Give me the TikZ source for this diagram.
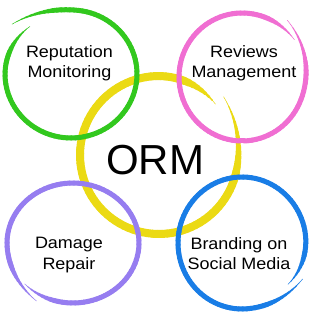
\documentclass[tikz,border=0pt]{standalone}
\usepackage{fontspec}
\setmainfont{Liberation Sans}
\definecolor{cgreen}{RGB}{50,200,30}
\definecolor{cpink}{RGB}{240,110,210}
\definecolor{cyellow}{RGB}{235,218,20}
\definecolor{cpurple}{RGB}{150,125,240}
\definecolor{cblue}{RGB}{25,125,230}
% #1 colour, #2 cx, #3 cy, #4 rx, #5 ry, #6 start angle, #7 sweep, #8 width, #9 radius offset expr in \myT
\newcommand\brushcirc[9]{%
 \foreach \i in {0,...,99}{%
   \pgfmathsetmacro\myT{\i/100}%
   \pgfmathsetmacro\ea{#9}%
   \pgfmathsetmacro\aa{#6+(#7)*\myT}%
   \pgfmathsetmacro\xa{#2+(#4+\ea)*cos(\aa)}%
   \pgfmathsetmacro\ya{#3+(#5+\ea)*sin(\aa)}%
   \pgfmathsetmacro\myT{(\i+1)/100}%
   \pgfmathsetmacro\eb{#9}%
   \pgfmathsetmacro\ab{#6+(#7)*\myT}%
   \pgfmathsetmacro\xb{#2+(#4+\eb)*cos(\ab)}%
   \pgfmathsetmacro\yb{#3+(#5+\eb)*sin(\ab)}%
   \pgfmathsetmacro\myT{(\i+0.5)/100}%
   \pgfmathsetmacro\ww{max(0.5,#8*min(1,min(\myT/\tapS,(1-\myT)/\tapE)))}%
   \draw[#1,line width=\ww pt,line cap=round] (\xa,\ya) -- (\xb,\yb);
 }}
\tikzset{
  lbl/.style={font=\fontsize{16.5}{20.5}\selectfont, align=center, xscale=1.09, transform shape, inner sep=0pt},
  big/.style={font=\fontsize{42}{46}\selectfont, inner sep=0pt}
}
\begin{document}
\begin{tikzpicture}[x=1pt,y=1pt]
\useasboundingbox (0,0) rectangle (318,320);
\fill[white] (0,0) rectangle (318,320);
% yellow centre circle
\def\tapS{0.16}\def\tapE{0.08}
\brushcirc{cyellow}{159}{165}{79}{79}{42}{-360}{8}{8*max(0,1-\myT/0.15)^2-3*max(0,(\myT-0.85)/0.15)^2}
% green
\def\tapS{0.1}\def\tapE{0.08}
\brushcirc{cgreen}{71}{246}{66}{64}{139}{-369}{5}{12*max(0,1-\myT/0.15)^2-2*max(0,(\myT-0.85)/0.15)^2}
% pink
\def\tapS{0.12}\def\tapE{0.08}
\brushcirc{cpink}{242}{243}{63}{64}{51}{-376}{5}{9*max(0,1-\myT/0.2)^2+1*max(0,(\myT-0.85)/0.15)^2}
% purple
\def\tapS{0.08}\def\tapE{0.1}
\brushcirc{cpurple}{73}{77}{66}{60}{223}{377}{5}{0*max(0,1-\myT/0.15)^2+7*max(0,(\myT-0.85)/0.15)^2}
% blue
\def\tapS{0.08}\def\tapE{0.1}
\brushcirc{cblue}{242}{77}{64}{66}{-41}{371}{5}{-3*max(0,1-\myT/0.15)^2+6*max(0,(\myT-0.85)/0.15)^2}
% labels
\node[lbl] (rep) at (69.5,257) {Reputation\\Monitoring};
\node[lbl] (rev) at (244,257) {Reviews\\Management};
\node[big] (orm) at (155,160) {ORM};
\node[lbl] (dam) at (69,65) {Damage\\Repair};
\node[lbl] (bra) at (239,66.5) {Branding on\\Social Media};
\end{tikzpicture}
\end{document}
